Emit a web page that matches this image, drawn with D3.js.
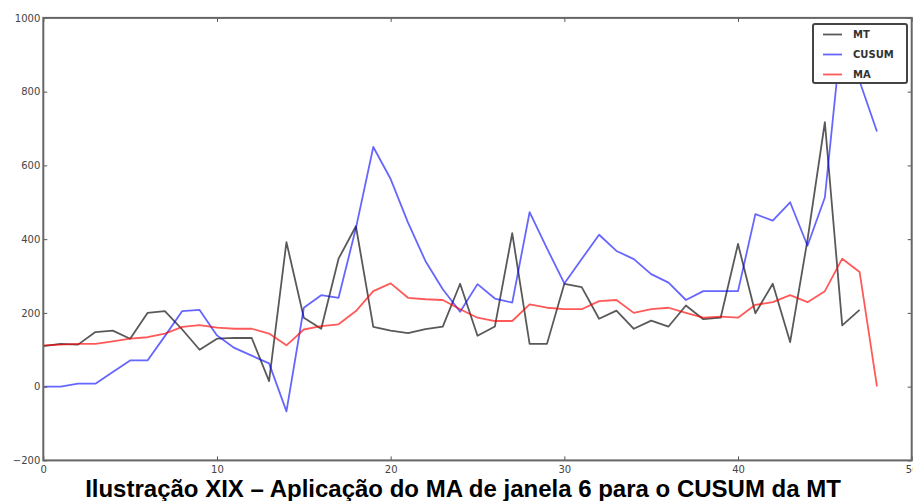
<!DOCTYPE html>
<html lang="pt">
<head>
<meta charset="UTF-8">
<title>MA de janela 6 para o CUSUM da MT</title>
<script src="https://d3js.org/d3.v7.min.js"></script>
<style>
    body { margin: 0; background: #fff; }
    svg { display: block; }
    .tick text { font: 10px 'DejaVu Sans', sans-serif; fill: #444; }
    .tick line { stroke: #555; stroke-width: 1; }
    .domain { display: none; }
    .line { fill: none; stroke-width: 1.8px; stroke-linejoin: round; }
    .legend text { font: bold 10px 'DejaVu Sans', sans-serif; fill: #333; }
    .caption { font: bold 24px 'Liberation Sans', Arial, sans-serif; fill: #000; }
</style>
</head>
<body>
<svg width="913" height="501"></svg>
<script>
// series, index 0..48
var mt = [110, 116, 114, 148, 152, 130, 200, 205, 155, 100, 130, 132, 132, 15, 392, 187, 157, 347, 435, 162,
          152, 145, 156, 163, 279, 138, 163, 416, 116, 116, 279, 270, 184, 206, 157, 179, 163, 220, 183, 187,
          387, 199, 279, 121, 398, 717, 166, 208];
var cusum = [0, 0, 8, 8, 40, 71, 71, 137, 205, 208, 139, 105, 84, 63, -67, 214, 248, 241, 430, 650,
             563, 445, 341, 264, 203, 278, 239, 228, 473, 375, 280, 346, 412, 368, 346, 305, 282, 235, 259, 259,
             259, 468, 450, 500, 382, 513, 975, 828, 692];
var ma = [112, 114, 116, 116, 123, 130, 134, 144, 162, 167, 160, 157, 157, 144, 112, 155, 164, 169, 205, 259,
          280, 241, 237, 235, 210, 187, 178, 178, 223, 214, 210, 210, 232, 235, 200, 210, 214, 200, 187, 190,
          187, 222, 229, 248, 229, 259, 347, 311, 1];

var seriesNames = ["MT", "CUSUM", "MA"];
var seriesColors = ["rgba(0,0,0,0.65)", "rgba(0,0,255,0.6)", "rgba(255,0,0,0.65)"];
var xTicks = [0, 10, 20, 30, 40, 50];
var yTicks = [-200, 0, 200, 400, 600, 800, 1000];
var caption = "Ilustração XIX – Aplicação do MA de janela 6 para o CUSUM da MT";

var plotLeft = 43.3, plotRight = 911.7, plotTop = 17.9, plotBottom = 460.4;

var svg = d3.select("svg");

var x = d3.scaleLinear().domain([0, 50]).range([plotLeft, plotRight]);
var y = d3.scaleLinear().domain([-200, 1000]).range([plotBottom, plotTop]);

svg.append("clipPath").attr("id", "clip")
    .append("rect").attr("x", plotLeft).attr("y", plotTop)
    .attr("width", plotRight - plotLeft).attr("height", plotBottom - plotTop);

var plot = svg.append("g").attr("clip-path", "url(#clip)");

var line = d3.line()
    .x(function(d, i) { return x(i); })
    .y(function(d) { return y(d); });

[mt, cusum, ma].forEach(function(s, k) {
    plot.append("path")
        .datum(s)
        .attr("class", "line")
        .attr("stroke", seriesColors[k])
        .attr("d", line);
});

// axes, matplotlib style: ticks pointing inwards on all four sides
svg.append("g")
    .attr("transform", "translate(0," + plotBottom + ")")
    .call(d3.axisBottom(x).tickValues(xTicks).tickSize(-4).tickSizeOuter(0).tickPadding(6));
svg.append("g")
    .attr("transform", "translate(0," + plotTop + ")")
    .call(d3.axisTop(x).tickValues(xTicks).tickSize(-4).tickSizeOuter(0).tickFormat(""));
svg.append("g")
    .attr("transform", "translate(" + plotLeft + ",0)")
    .call(d3.axisLeft(y).tickValues(yTicks).tickSize(-4).tickSizeOuter(0).tickPadding(3)
        .tickFormat(function(d) { return d < 0 ? "\u2212" + Math.abs(d) : d; }));
svg.append("g")
    .attr("transform", "translate(" + plotRight + ",0)")
    .call(d3.axisRight(y).tickValues(yTicks).tickSize(-4).tickSizeOuter(0).tickFormat(""));

svg.append("rect")
    .attr("x", plotLeft).attr("y", plotTop)
    .attr("width", plotRight - plotLeft).attr("height", plotBottom - plotTop)
    .attr("fill", "none").attr("stroke", "#666").attr("stroke-width", 2);

// legend
var legend = svg.append("g").attr("class", "legend");
legend.append("rect")
    .attr("x", 813).attr("y", 24).attr("width", 94).attr("height", 59)
    .attr("rx", 2)
    .attr("fill", "#fff").attr("stroke", "#444").attr("stroke-width", 2);
seriesNames.forEach(function(name, k) {
    var ly = 34.5 + k * 20;
    legend.append("line")
        .attr("x1", 823).attr("x2", 842).attr("y1", ly).attr("y2", ly)
        .attr("stroke", seriesColors[k]).attr("stroke-width", 1.8);
    legend.append("text")
        .attr("x", 853).attr("y", ly).attr("dy", "0.35em")
        .text(name);
});

svg.append("text")
    .attr("class", "caption")
    .attr("x", 463).attr("y", 497)
    .attr("text-anchor", "middle")
    .text(caption);
</script>
</body>
</html>
